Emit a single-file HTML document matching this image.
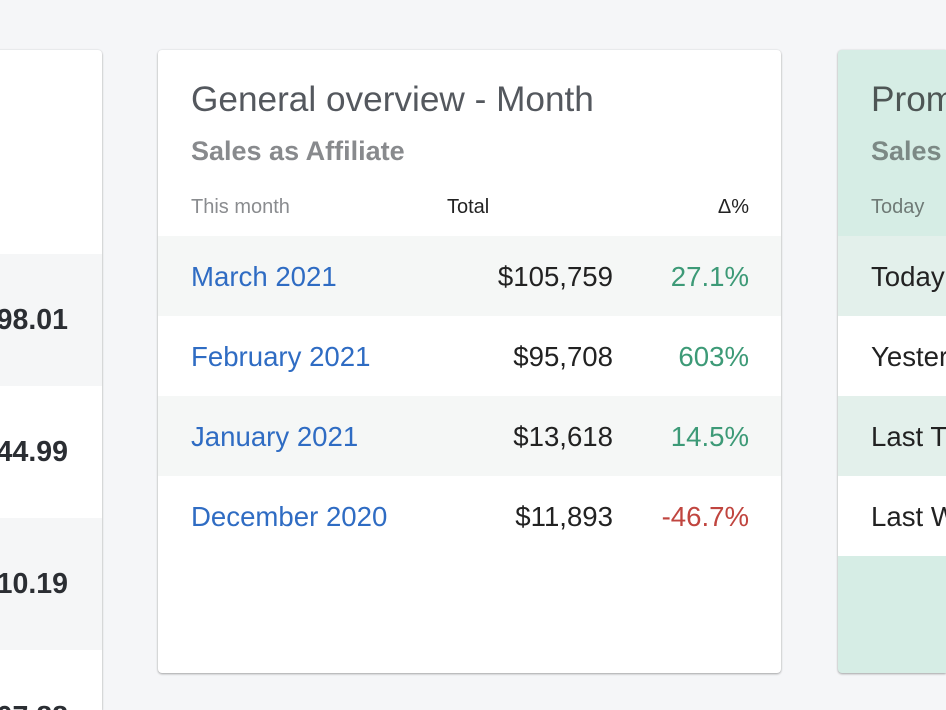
<!DOCTYPE html>
<html><head><meta charset="utf-8"><style>
html,body{margin:0;padding:0;width:946px;height:710px;overflow:hidden;}
body{background:#f5f6f8;font-family:"Liberation Sans",Arial,sans-serif;}
#wrap{position:relative;width:946px;height:710px;overflow:hidden;background:#f5f6f8;}
.card{position:absolute;background:#fff;border-radius:4px;box-shadow:0 1px 2px rgba(0,0,0,0.32),0 0 2px rgba(0,0,0,0.07);overflow:hidden;}
.t{position:absolute;white-space:nowrap;}
.row{position:absolute;left:0;right:0;}
</style></head><body>
<div id="wrap">

<!-- left card -->
<div class="card" style="left:-40px;top:50px;width:142px;height:660px;border-radius:0 4px 0 0;">
  <div class="row" style="top:204px;height:132px;background:#f5f6f7;"></div>
  <div class="row" style="top:468px;height:132px;background:#f5f6f7;"></div>
  <div class="t" style="right:34px;top:256px;font-size:28.5px;line-height:28.5px;font-weight:bold;color:#2b2e33;">$1,298.01</div>
  <div class="t" style="right:34px;top:388px;font-size:28.5px;line-height:28.5px;font-weight:bold;color:#2b2e33;">$1,244.99</div>
  <div class="t" style="right:34px;top:520px;font-size:28.5px;line-height:28.5px;font-weight:bold;color:#2b2e33;">$1,210.19</div>
  <svg style="position:absolute;left:0;top:600px;" width="142" height="60" viewBox="0 0 142 60">
    <text x="108" y="76" text-anchor="end" font-family="Liberation Sans, Arial, sans-serif" font-size="28.5" font-weight="bold" fill="#2b2e33">$1,207.88</text>
  </svg>
</div>

<!-- middle card -->
<div class="card" style="left:158px;top:50px;width:623px;height:623px;">
  <div class="t" style="left:33px;top:32px;font-size:35.2px;line-height:35px;color:#54585e;">General overview - Month</div>
  <div class="t" style="left:33px;top:88px;font-size:27px;line-height:27px;font-weight:bold;color:#888a8d;">Sales as Affiliate</div>
  <div class="t" style="left:33px;top:147px;font-size:20px;line-height:20px;color:#8a8c8f;">This month</div>
  <div class="t" style="left:289px;top:147px;font-size:20px;line-height:20px;color:#222;">Total</div>
  <div class="t" style="right:32px;top:147px;font-size:20px;line-height:20px;color:#222;">Δ%</div>

  <div class="row" style="top:186px;height:80px;background:#f5f7f6;"></div>
  <div class="row" style="top:346px;height:80px;background:#f5f7f6;"></div>

  <div class="t" style="left:33px;top:212.6px;font-size:27.6px;line-height:27.6px;color:#2f6cc3;">March 2021</div>
  <div class="t" style="right:168px;top:212.6px;font-size:27.6px;line-height:27.6px;color:#222;">$105,759</div>
  <div class="t" style="right:32px;top:212.6px;font-size:27.6px;line-height:27.6px;color:#3d9a77;">27.1%</div>

  <div class="t" style="left:33px;top:292.6px;font-size:27.6px;line-height:27.6px;color:#2f6cc3;">February 2021</div>
  <div class="t" style="right:168px;top:292.6px;font-size:27.6px;line-height:27.6px;color:#222;">$95,708</div>
  <div class="t" style="right:32px;top:292.6px;font-size:27.6px;line-height:27.6px;color:#3d9a77;">603%</div>

  <div class="t" style="left:33px;top:372.6px;font-size:27.6px;line-height:27.6px;color:#2f6cc3;">January 2021</div>
  <div class="t" style="right:168px;top:372.6px;font-size:27.6px;line-height:27.6px;color:#222;">$13,618</div>
  <div class="t" style="right:32px;top:372.6px;font-size:27.6px;line-height:27.6px;color:#3d9a77;">14.5%</div>

  <div class="t" style="left:33px;top:452.6px;font-size:27.6px;line-height:27.6px;color:#2f6cc3;">December 2020</div>
  <div class="t" style="right:168px;top:452.6px;font-size:27.6px;line-height:27.6px;color:#222;">$11,893</div>
  <div class="t" style="right:32px;top:452.6px;font-size:27.6px;line-height:27.6px;color:#c0453f;">-46.7%</div>
</div>

<!-- right card -->
<div class="card" style="left:838px;top:50px;width:108px;height:623px;background:#d6ede5;border-radius:4px 0 0 4px;">
  <div class="t" style="left:33px;top:32px;font-size:35.2px;line-height:35px;color:#4e5655;">Prom</div>
  <div class="t" style="left:33px;top:88px;font-size:27px;line-height:27px;font-weight:bold;color:#7c8985;">Sales</div>
  <div class="t" style="left:33px;top:147px;font-size:20px;line-height:20px;color:#6f7a76;">Today</div>

  <div class="row" style="top:186px;height:80px;background:#e3f0eb;"></div>
  <div class="row" style="top:266px;height:80px;background:#fff;"></div>
  <div class="row" style="top:346px;height:80px;background:#e3f0eb;"></div>
  <div class="row" style="top:426px;height:80px;background:#fff;"></div>

  <div class="t" style="left:33px;top:212.6px;font-size:27.6px;line-height:27.6px;color:#222;">Today</div>
  <div class="t" style="left:33px;top:292.6px;font-size:27.6px;line-height:27.6px;color:#222;">Yester</div>
  <div class="t" style="left:33px;top:372.6px;font-size:27.6px;line-height:27.6px;color:#222;">Last T</div>
  <div class="t" style="left:33px;top:452.6px;font-size:27.6px;line-height:27.6px;color:#222;">Last W</div>
</div>

</div>
</body></html>
